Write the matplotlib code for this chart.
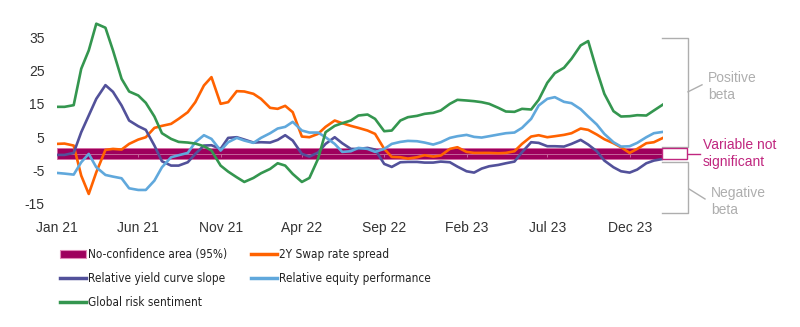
import matplotlib.pyplot as plt
import matplotlib.patches as mpatches
import matplotlib.transforms as mtransforms
from matplotlib.lines import Line2D
from matplotlib import font_manager
import pandas as pd

# Rolling betas, sampled twice a month (1st and 15th)
dates = pd.date_range('2021-01-01', periods=75, freq='SMS')

swap_spread = [3, 3.1, 2.5, -6.5, -12, -5.5, 1.2, 1.5, 1.3, 3,
               4.3, 5, 7.8, 8.4, 9, 10.5, 12.5, 15.5, 20.5, 23,
               15, 15.5, 18.8, 18.7, 18, 16.5, 13.8, 13.5, 14.4, 12.5,
               5.2, 5, 6, 8.1, 10, 9.2, 8.4, 7.8, 7, 6,
               1.5, -0.9, -1.0, -1.4, -1, -0.4, -0.8, -0.5, 1.5, 2.0,
               0.6, 0.3, 0.3, 0.3, 0.2, 0.3, 0.8, 3, 5.2, 5.6,
               5, 5.3, 5.7, 6.2, 7.6, 7.2, 5.8, 4.4, 3.2, 2,
               0.3, 1.5, 3.2, 3.5, 4.8]

yield_slope = [-0.3, -0.3, 0.3, 6.5, 11.5, 16.5, 20.6, 18.6, 14.5, 10,
               8.3, 7.2, 2.5, -2.2, -3.5, -3.5, -2.5, 0, 2.5, 2.6,
               1.5, 4.8, 5, 4.3, 3.4, 3.5, 3.4, 4.2, 5.6, 4,
               0, -0.8, 0.4, 3, 5, 3.2, 1.5, 1.5, 1.8, 1.3,
               -3, -3.9, -2.5, -2.4, -2.4, -2.6, -2.6, -2.3, -2.5, -3.8,
               -5.2, -5.6, -4.4, -3.7, -3.3, -2.8, -2.3, 0.5, 3.5, 3.3,
               2.3, 2.3, 2.2, 3, 4.2, 2.8, 0.8, -2, -4, -5.2,
               -5.6, -4.7, -2.8, -2, -1.5]

equity_perf = [-5.7, -5.9, -6.2, -2.5, 0, -4, -6.3, -6.8, -7.3, -10.3,
               -10.8, -10.8, -8, -4, -1.0, -0.4, 0.3, 3.5, 5.6, 4.5,
               1, 3.5, 4.8, 4, 3.3, 4.8, 6.2, 7.6, 8.1, 9.6,
               7, 6.4, 6.4, 5, 3, 0.6, 0.8, 1.8, 1.5, 0.6,
               1.5, 3, 3.6, 3.9, 3.8, 3.4, 2.8, 3.5, 4.8, 5.3,
               5.7, 5.1, 4.9, 5.3, 5.8, 6.2, 6.4, 7.8, 10.5, 14.5,
               16.5, 17, 15.6, 15.2, 13.4, 11.2, 8.8, 6, 3.5, 2.2,
               2.3, 3.3, 5, 6.2, 6.6]

global_risk = [14.1, 14.1, 14.6, 25.5, 31, 39, 37.8, 31, 22.5, 18.7,
               17.5, 15.3, 11.2, 6.2, 4.5, 3.6, 3.4, 3.1, 2.3, 1.0,
               -3.5, -5.3, -7, -8.4, -7.2, -5.8, -4.5, -2.8, -3.5, -6,
               -8.4, -7.2, -1.5, 6.5, 8.4, 9.2, 10, 11.5, 11.8, 10.5,
               6.8, 7, 10, 11, 11.4, 12, 12.3, 13, 15, 16.2,
               16, 15.8, 15.5, 15, 13.8, 12.7, 12.6, 13.5, 13.3, 16.2,
               21.3, 24.2, 25.8, 28.5, 32.5, 33.8, 25, 18, 12.8, 11.2,
               11.3, 11.6, 11.5, 13, 14.8]

# 95% no-confidence band around zero
band_low, band_high = -1.6, 1.8

tick_dates = pd.to_datetime(['2021-01-01', '2021-06-01', '2021-11-01', '2022-04-01',
                             '2022-09-01', '2023-02-01', '2023-07-01', '2023-12-01'])
tick_labels = ['Jan 21', 'Jun 21', 'Nov 21', 'Apr 22', 'Sep 22', 'Feb 23', 'Jul 23', 'Dec 23']
y_ticks = [-15, -5, 5, 15, 25, 35]

c_band = '#9E005D'
c_orange = '#FF6200'
c_purple = '#52519A'
c_blue = '#60A8DC'
c_green = '#34964F'
c_magenta = '#C0267F'
c_grey = '#AEAEAE'

plt.rcParams['font.family'] = ['Liberation Sans', 'DejaVu Sans']

fig = plt.figure(figsize=(8, 3.27), dpi=100)
ax = fig.add_axes([57 / 800, 1 - 214 / 327, 606 / 800, 200.3 / 327])
ax.set_xlim(dates[0], dates[-1])
ax.set_ylim(-18, 42)

ax.axhspan(band_low, band_high, facecolor=c_band, edgecolor='#D46AA4', lw=0.6, zorder=1)
ax.axhline(0, color='#C5649A', lw=0.7, zorder=1.5)
ax.vlines(tick_dates, -1.0, 0, color='#C5649A', lw=0.7, zorder=1.5)

lw = 1.9
ax.plot(dates, swap_spread, color=c_orange, lw=lw, zorder=3)
ax.plot(dates, yield_slope, color=c_purple, lw=lw, zorder=3)
ax.plot(dates, equity_perf, color=c_blue, lw=lw, zorder=3)
ax.plot(dates, global_risk, color=c_green, lw=lw, zorder=3)

ax.set_xticks(tick_dates)
ax.set_xticklabels(tick_labels)
ax.set_yticks(y_ticks)
ax.set_yticklabels([str(v) for v in y_ticks])
ax.tick_params(axis='x', length=0, pad=5, labelsize=10, labelcolor='#333333')
ax.tick_params(axis='y', length=0, pad=9, labelsize=10, labelcolor='#333333')
for s in ax.spines.values():
    s.set_visible(False)

# brackets and notes on the right: x in figure pixels, y in data units
trans = mtransforms.blended_transform_factory(fig.transFigure, ax.transData)
def fx(px):
    return px / 800

bx0, bx1 = fx(662), fx(688)
ax.plot([bx0, bx1, bx1, bx0], [34.7, 34.7, 2.1, 2.1], color=c_grey, lw=1,
        transform=trans, clip_on=False)
ax.plot([bx1, fx(702)], [18.6, 20.7], color=c_grey, lw=1, transform=trans, clip_on=False)
ax.text(fx(708), 20.2, 'Positive\nbeta', transform=trans, color=c_grey, fontsize=10,
        ha='left', va='center', linespacing=1.3)

ax.plot([bx0, bx1, bx1, bx0], [-2.4, -2.4, -17.7, -17.7], color=c_grey, lw=1,
        transform=trans, clip_on=False)
ax.plot([fx(689), fx(705)], [-10.5, -13.5], color=c_grey, lw=1, transform=trans, clip_on=False)
ax.text(fx(711), -14.2, 'Negative\nbeta', transform=trans, color=c_grey, fontsize=10,
        ha='left', va='center', linespacing=1.3)

box = mpatches.Rectangle((fx(662), band_low), fx(687) - fx(662), band_high - band_low,
                         facecolor='white', edgecolor=c_magenta, lw=1,
                         transform=trans, clip_on=False, zorder=4)
ax.add_patch(box)
mid = (band_low + band_high) / 2
ax.plot([fx(687), fx(700)], [mid, mid], color=c_magenta, lw=1, transform=trans, clip_on=False)
ax.text(fx(703), mid, 'Variable not\nsignificant', transform=trans, color=c_magenta,
        fontsize=10, ha='left', va='center', linespacing=1.25)

handles = [
    mpatches.Patch(facecolor=c_band, edgecolor='#E08AB8', lw=0.8),
    Line2D([], [], color=c_purple, lw=2.5),
    Line2D([], [], color=c_green, lw=2.5),
    Line2D([], [], color=c_orange, lw=2.5),
    Line2D([], [], color=c_blue, lw=2.5),
]
labels = ['No-confidence area (95%)', 'Relative yield curve slope', 'Global risk sentiment',
          '2Y Swap rate spread', 'Relative equity performance']
leg_font = font_manager.FontProperties(family='DejaVu Sans', stretch='condensed', size=8.5)
leg = fig.legend(handles, labels, loc='upper left', bbox_to_anchor=(60 / 800, 1 - 248 / 327),
                 ncol=2, frameon=False, handlelength=2.2, handletextpad=0.2,
                 columnspacing=2.0, labelspacing=0.95, borderpad=0, borderaxespad=0,
                 prop=leg_font)
for t in leg.get_texts():
    t.set_color('#222222')

fig.savefig('out.png', dpi=100)
